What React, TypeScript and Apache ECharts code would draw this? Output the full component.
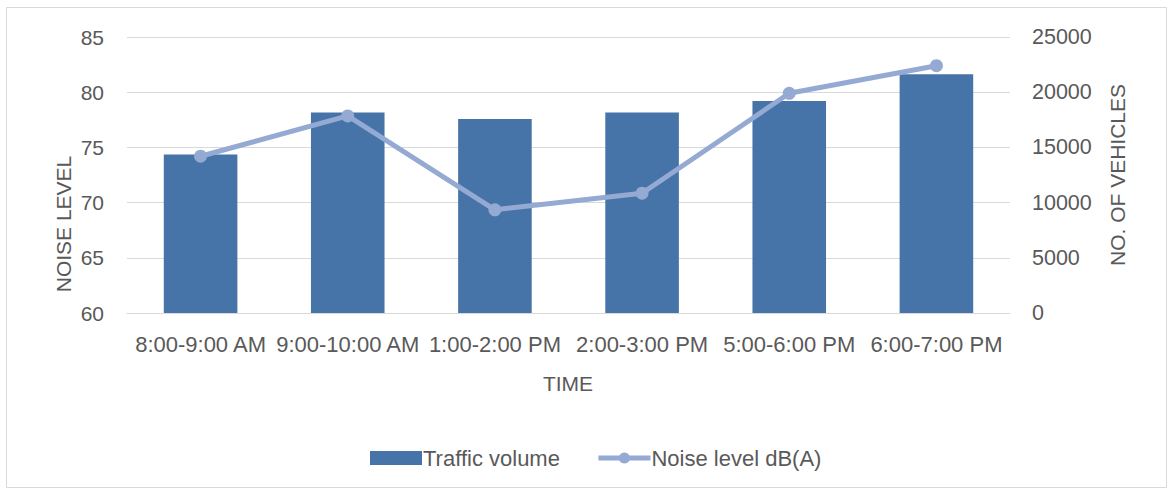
import React, { useEffect, useRef } from "react";
import * as echarts from "echarts";

const categories = ["8:00-9:00 AM", "9:00-10:00 AM", "1:00-2:00 PM", "2:00-3:00 PM", "5:00-6:00 PM", "6:00-7:00 PM"];
const trafficVolume = [14350, 18150, 17580, 18150, 19210, 21620];
const noiseLevel = [74.2, 77.85, 69.35, 70.85, 79.9, 82.4];

const FONT = "Liberation Sans, Arial, sans-serif";
const TXT = "#595959";
const LINE = "#94AAD2";

export default function App() {
  const ref = useRef<HTMLDivElement>(null);
  useEffect(() => {
    if (!ref.current) return;
    const chart = echarts.init(ref.current, null, { renderer: "svg" });
    chart.setOption({
      animation: false,
      backgroundColor: "#ffffff",
      textStyle: { fontFamily: FONT, color: TXT },
      grid: { left: 127, right: 159, top: 37, bottom: 178, containLabel: false },
      legend: {
        left: 365,
        top: 442,
        itemWidth: 52,
        itemHeight: 14,
        itemGap: 36,
        textStyle: { fontFamily: FONT, fontSize: 22, color: TXT, padding: [0, 0, 0, -4] },
        data: [
          { name: "Traffic volume", icon: "rect" },
          { name: "Noise level dB(A)", lineStyle: { width: 5, color: LINE }, itemStyle: { color: LINE } },
        ],
      },
      xAxis: {
        type: "category",
        data: categories,
        axisLine: { show: true, lineStyle: { color: "#d9d9d9", width: 1 } },
        axisTick: { show: false },
        axisLabel: { interval: 0, fontSize: 22, color: TXT, fontFamily: FONT, margin: 20 },
      },
      yAxis: [
        {
          type: "value",
          min: 60,
          max: 85,
          interval: 5,
          position: "left",
          axisLine: { show: false },
          axisTick: { show: false },
          axisLabel: { fontSize: 21, color: TXT, fontFamily: FONT, margin: 23 },
          splitLine: { show: true, lineStyle: { color: "#d9d9d9", width: 1 } },
        },
        {
          type: "value",
          min: 0,
          max: 25000,
          interval: 5000,
          position: "right",
          axisLine: { show: false },
          axisTick: { show: false },
          axisLabel: { fontSize: 21.5, color: TXT, fontFamily: FONT, margin: 22, formatter: (v: number) => String(v) },
          splitLine: { show: false },
        },
      ],
      series: [
        {
          name: "Traffic volume",
          type: "bar",
          yAxisIndex: 1,
          data: trafficVolume,
          barWidth: "50%",
          itemStyle: { color: "#4674A8" },
        },
        {
          name: "Noise level dB(A)",
          type: "line",
          yAxisIndex: 0,
          data: noiseLevel,
          symbol: "circle",
          symbolSize: 13,
          lineStyle: { color: LINE, width: 5 },
          itemStyle: { color: LINE },
          z: 3,
        },
      ],
      graphic: [
        {
          type: "rect",
          shape: { x: 6.5, y: 7.5, width: 1160, height: 480 },
          style: { fill: "none", stroke: "#d9d9d9", lineWidth: 1 },
          silent: true,
          z: -1,
        },
        {
          type: "text",
          x: 63,
          y: 224,
          rotation: Math.PI / 2,
          style: { text: "NOISE LEVEL", fontSize: 21, fontFamily: FONT, fill: TXT, align: "center", verticalAlign: "middle" },
        },
        {
          type: "text",
          x: 1117,
          y: 175,
          rotation: Math.PI / 2,
          style: { text: "NO. OF VEHICLES", fontSize: 21, fontFamily: FONT, fill: TXT, align: "center", verticalAlign: "middle" },
        },
        {
          type: "text",
          x: 568,
          y: 383,
          style: { text: "TIME", fontSize: 21, fontFamily: FONT, fill: TXT, align: "center", verticalAlign: "middle" },
        },
      ],
    });
    return () => chart.dispose();
  }, []);
  return <div ref={ref} style={{ position: "fixed", left: 0, top: 0, width: 1169, height: 491 }} />;
}
